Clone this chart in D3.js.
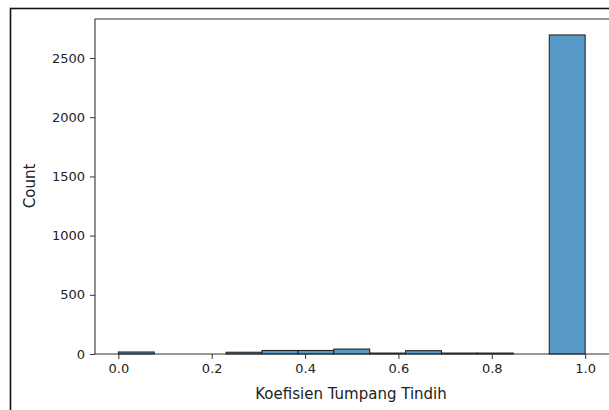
<!DOCTYPE html>
<html>
<head>
    <meta charset="utf-8">
    <script src="https://d3js.org/d3.v7.min.js"></script>
    <style>
        body { margin: 0; background: #fff; }
        text { font-family: "DejaVu Sans", sans-serif; fill: #222; }
    </style>
</head>
<body>
    <div id="dataviz"></div>
    <script>
        // histogram counts, 13 equal bins over [0, 1]
        var counts = [17, 0, 0, 15, 30, 30, 42, 8, 28, 8, 8, 0, 2695];
        var xTicks = [0, 0.2, 0.4, 0.6, 0.8, 1.0];
        var yTicks = [0, 500, 1000, 1500, 2000, 2500];
        var xLabel = "Koefisien Tumpang Tindih";
        var yLabel = "Count";

        var W = 609, H = 410;
        // plot area edges (don't call these "top", it clashes with window.top)
        var plotLeft = 95, plotRight = 608.5, plotTop = 19, plotBottom = 354;
        var nBins = counts.length;

        var svg = d3.select("#dataviz")
            .append("svg")
            .attr("width", W)
            .attr("height", H);

        // outer frame around the figure (screenshot border)
        svg.append("rect")
            .attr("x", 10.5)
            .attr("y", 8.5)
            .attr("width", 700)
            .attr("height", 500)
            .attr("fill", "none")
            .attr("stroke", "#111")
            .attr("stroke-width", 1.6);

        var x = d3.scaleLinear()
            .domain([-0.05, 1.05])
            .range([plotLeft, plotRight]);

        var y = d3.scaleLinear()
            .domain([0, d3.max(counts) * 1.05])
            .range([plotBottom, plotTop]);

        // bars
        svg.selectAll("rect.bar")
            .data(counts)
            .enter()
            .append("rect")
            .attr("class", "bar")
            .attr("x", function(d, i) { return x(i / nBins); })
            .attr("width", function(d, i) { return x((i + 1) / nBins) - x(i / nBins); })
            .attr("y", function(d) { return y(d); })
            .attr("height", function(d) { return plotBottom - y(d); })
            .style("fill", "#5799c7")
            .style("stroke", "#1a1a1a")
            .style("stroke-width", 1);

        // axes
        var xAxis = svg.append("g")
            .attr("transform", "translate(0," + plotBottom + ")")
            .call(d3.axisBottom(x).tickValues(xTicks).tickFormat(d3.format(".1f")).tickSize(5).tickPadding(5));

        var yAxis = svg.append("g")
            .attr("transform", "translate(" + plotLeft + ",0)")
            .call(d3.axisLeft(y).tickValues(yTicks).tickFormat(d3.format("d")).tickSize(5).tickPadding(5));

        [xAxis, yAxis].forEach(function(a) {
            a.select(".domain").remove();
            a.selectAll("line").attr("stroke", "#333").attr("stroke-width", 1);
            a.selectAll("text").style("font-size", "13px").attr("fill", "#222");
        });

        // spines: left, top, bottom (right one falls off the cropped screenshot)
        var spine = d3.line();
        svg.append("path")
            .attr("d", spine([[W + 2, plotTop], [plotLeft, plotTop], [plotLeft, plotBottom], [W + 2, plotBottom]]))
            .attr("fill", "none")
            .attr("stroke", "#333")
            .attr("stroke-width", 1.1);

        svg.append("text")
            .attr("x", 351)
            .attr("y", 399)
            .attr("text-anchor", "middle")
            .style("font-size", "15px")
            .text(xLabel);

        svg.append("text")
            .attr("transform", "translate(35," + 186 + ") rotate(-90)")
            .attr("text-anchor", "middle")
            .style("font-size", "15px")
            .text(yLabel);
    </script>
</body>
</html>
